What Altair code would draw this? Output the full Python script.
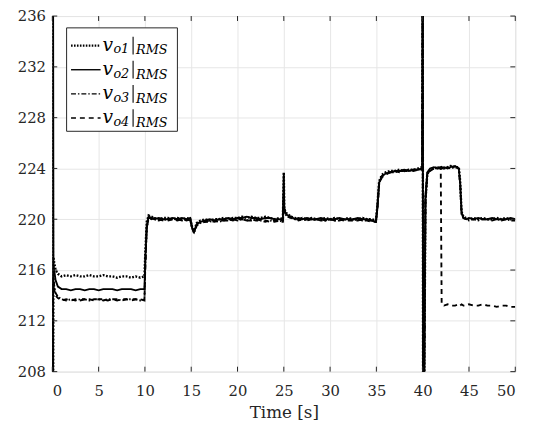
import altair as alt
import pandas as pd

# ---------------- data ----------------
T = (
    [0, 0.04, 0.08, 0.12, 0.2, 0.35, 0.6, 1.0]
    + [1.5, 2.0, 2.5, 3.0, 3.5, 4.0, 4.5, 5.0, 5.5, 6.0, 6.5, 7.0, 7.5, 8.0, 8.5, 9.0, 9.5, 9.95]
    + [10.05, 10.2, 10.4, 10.7, 11.0, 11.5, 12.0, 12.5, 13.0, 13.5, 14.0, 14.5, 14.9]
    + [15.1, 15.3, 15.6, 16.0, 16.5, 17.0, 17.5, 18.0, 18.5, 19.0, 19.5, 20.0, 20.5, 21.0, 21.5, 22.0, 22.5, 23.0, 23.5, 24.0, 24.5, 24.9]
    + [25.0, 25.05, 25.15, 25.4, 25.8, 26.2, 26.6, 27.0, 27.5, 28.0, 28.5, 29.0, 29.5, 30.0, 30.5, 31.0, 31.5, 32.0, 32.5, 33.0, 33.5, 34.0, 34.5, 34.95]
    + [35.1, 35.3, 35.6, 36.0, 36.5, 37.0, 37.5, 38.0, 38.5, 39.0, 39.5, 39.95]
    + [40.0, 40.05, 40.15, 40.3, 40.5, 40.8, 41.2, 41.6, 41.95]
    + [42.05, 42.3, 42.7, 43.0, 43.5, 43.9]
    + [44.05, 44.2, 44.4, 44.7, 45.0, 45.5, 46.0, 46.5, 47.0, 47.5, 48.0, 48.5, 49.0, 49.5, 50.0]
)

VO1 = (
    [200, 240, 200, 217.0, 216.6, 216.0, 215.7, 215.5]
    + [215.6, 215.5, 215.6, 215.5, 215.5, 215.6, 215.5, 215.5, 215.6, 215.5, 215.5, 215.4, 215.5, 215.5, 215.4, 215.5, 215.4, 215.5]
    + [217.5, 219.8, 220.3, 220.2, 220.1, 220.0, 220.1, 220.1, 220.0, 220.1, 220.0, 220.1, 220.0]
    + [219.4, 219.1, 219.7, 219.9, 220.0, 219.9, 220.0, 220.0, 220.1, 220.0, 220.1, 220.1, 220.2, 220.1, 220.2, 220.1, 220.1, 220.2, 220.1, 220.0, 220.1, 220.0]
    + [223.7, 221.0, 220.6, 220.4, 220.2, 220.1, 220.0, 220.1, 220.0, 220.1, 220.0, 220.0, 220.1, 220.0, 220.1, 220.0, 220.0, 220.1, 220.0, 220.0, 220.1, 220.0, 220.0, 219.9]
    + [221.0, 223.0, 223.5, 223.7, 223.8, 223.8, 223.9, 223.8, 223.9, 223.9, 224.0, 224.1]
    + [240, 200, 205, 221.5, 223.6, 223.9, 224.0, 224.1, 224.0]
    + [224.1, 224.0, 224.1, 224.2, 224.1, 224.1]
    + [223.0, 220.6, 220.2, 220.1, 220.0, 220.1, 220.0, 220.1, 220.0, 220.0, 220.1, 220.0, 220.1, 220.0, 220.0]
)

VO2 = (
    [230, 200, 240, 216.5, 216.0, 215.2, 214.7, 214.5]
    + [214.5, 214.4, 214.5, 214.5, 214.4, 214.5, 214.5, 214.4, 214.5, 214.5, 214.5, 214.4, 214.5, 214.5, 214.5, 214.4, 214.5, 214.5]
    + [217.0, 219.5, 220.2, 220.1, 220.0, 220.1, 220.0, 220.0, 220.1, 220.0, 220.1, 220.0, 220.1]
    + [219.3, 219.0, 219.6, 219.8, 219.9, 220.0, 219.9, 220.0, 220.0, 220.1, 220.0, 220.1, 220.1, 220.2, 220.1, 220.1, 220.0, 220.1, 220.1, 220.0, 220.0, 219.9]
    + [223.5, 220.9, 220.5, 220.3, 220.2, 220.0, 220.1, 220.0, 220.1, 220.0, 220.0, 220.1, 220.0, 220.0, 220.0, 220.1, 220.0, 220.0, 220.0, 220.1, 220.0, 220.0, 219.9, 219.8]
    + [220.9, 222.9, 223.4, 223.6, 223.7, 223.8, 223.8, 223.9, 223.8, 223.9, 223.9, 224.0]
    + [238, 202, 206, 221.8, 223.7, 224.0, 224.1, 224.0, 224.1]
    + [224.0, 224.1, 224.0, 224.1, 224.2, 224.0]
    + [222.8, 220.5, 220.1, 220.0, 220.1, 220.0, 220.1, 220.0, 220.0, 220.1, 220.0, 220.0, 220.0, 220.1, 220.0]
)

VO3 = (
    [212, 205, 215, 215.5, 214.8, 214.2, 213.9, 213.7]
    + [213.6, 213.7, 213.6, 213.7, 213.7, 213.6, 213.7, 213.7, 213.6, 213.7, 213.7, 213.7, 213.6, 213.7, 213.7, 213.7, 213.6, 213.7]
    + [216.5, 219.3, 220.1, 220.1, 220.0, 219.9, 220.0, 219.9, 220.0, 220.0, 219.9, 220.0, 219.9]
    + [219.3, 218.9, 219.5, 219.7, 219.8, 219.8, 219.9, 219.8, 219.9, 219.9, 220.0, 219.9, 220.0, 219.9, 220.0, 219.9, 219.9, 219.8, 219.9, 219.8, 219.9, 219.8]
    + [222.0, 220.7, 220.4, 220.2, 220.1, 220.0, 219.9, 220.0, 219.9, 220.0, 220.0, 219.9, 219.9, 220.0, 219.9, 219.9, 220.0, 219.9, 219.9, 220.0, 219.9, 219.9, 219.9, 219.8]
    + [220.8, 222.8, 223.4, 223.6, 223.7, 223.7, 223.8, 223.8, 223.8, 223.9, 223.9, 224.0]
    + [240, 200, 205, 221.3, 223.5, 223.9, 224.0, 224.0, 224.0]
    + [224.0, 224.0, 224.1, 224.0, 224.1, 224.0]
    + [222.7, 220.4, 220.1, 220.0, 219.9, 220.0, 219.9, 220.0, 220.0, 219.9, 220.0, 219.9, 220.0, 219.9, 219.9]
)

VO4 = (
    [212, 206, 214, 215.0, 214.5, 214.0, 213.8, 213.6]
    + [213.7, 213.6, 213.7, 213.6, 213.7, 213.7, 213.6, 213.7, 213.7, 213.6, 213.7, 213.6, 213.7, 213.7, 213.6, 213.7, 213.7, 213.6]
    + [216.5, 219.3, 220.1, 220.0, 220.1, 220.0, 219.9, 220.0, 220.0, 219.9, 220.0, 219.9, 220.0]
    + [219.3, 219.0, 219.6, 219.8, 219.8, 219.9, 219.8, 219.9, 219.9, 220.0, 219.9, 220.0, 220.0, 219.9, 219.9, 220.0, 219.9, 219.9, 219.8, 219.9, 219.8, 219.8]
    + [222.0, 220.8, 220.5, 220.2, 220.1, 220.0, 220.0, 219.9, 220.0, 219.9, 220.0, 220.0, 219.9, 220.0, 219.9, 220.0, 219.9, 220.0, 219.9, 219.9, 220.0, 219.9, 219.8, 219.8]
    + [220.8, 222.8, 223.3, 223.5, 223.7, 223.8, 223.7, 223.8, 223.9, 223.8, 223.9, 223.9]
    + [239, 201, 205, 221.5, 223.6, 223.8, 224.0, 224.1, 224.0]
    + [213.3, 213.2, 213.3, 213.2, 213.2, 213.3]
    + [213.2, 213.3, 213.2, 213.2, 213.3, 213.2, 213.2, 213.3, 213.2, 213.2, 213.1, 213.2, 213.2, 213.1, 213.1]
)

SERIES = ["vo1", "vo2", "vo3", "vo4"]
SUBSCRIPTS = ["o1", "o2", "o3", "o4"]
X_TICKS = [0, 5, 10, 15, 20, 25, 30, 35, 40, 45, 50]
Y_TICKS = [208, 212, 216, 220, 224, 228, 232, 236]

assert len(T) == len(VO1) == len(VO2) == len(VO3) == len(VO4)

# ---------------- styling ----------------
W, H = 470, 361
FONT = "DejaVu Serif"
AXC = "#262626"
STYLE = {
    "vo1": dict(strokeDash=[1.8, 1.6], strokeWidth=2.4),
    "vo2": dict(strokeWidth=1.9),
    "vo3": dict(strokeDash=[5, 2, 1.5, 2], strokeWidth=1.9),
    "vo4": dict(strokeDash=[5, 4], strokeWidth=1.9),
}
LEG_STYLE = {
    "vo1": dict(strokeDash=[1.6, 1.4], strokeWidth=2.2),
    "vo2": dict(strokeWidth=1.4),
    "vo3": dict(strokeDash=[5, 2, 1.5, 2], strokeWidth=1.4),
    "vo4": dict(strokeDash=[5, 4], strokeWidth=1.4),
}

rows = []
for name, vals in zip(SERIES, [VO1, VO2, VO3, VO4]):
    for t, v in zip(T, vals):
        rows.append({"series": name, "t": t, "v": v})
df = pd.DataFrame(rows)

xscale = alt.Scale(domain=[0, 50], nice=False, zero=False)
yscale = alt.Scale(domain=[208, 236], nice=False, zero=False)
xaxis = alt.Axis(values=X_TICKS, grid=True, gridColor="#e6e6e6", gridWidth=1,
                 ticks=False, domain=False, labelFont=FONT, labelFontSize=15,
                 labelColor=AXC, labelPadding=12, title="Time [s]", titleFont=FONT,
                 titleFontSize=17, titleFontWeight="normal", titleColor=AXC,
                 titlePadding=7)
yaxis = alt.Axis(values=Y_TICKS, grid=True, gridColor="#e6e6e6", gridWidth=1,
                 ticks=False, domain=False, labelFont=FONT, labelFontSize=15,
                 labelColor=AXC, labelPadding=7, title=None)
X = alt.X("t:Q", scale=xscale, axis=xaxis)
Y = alt.Y("v:Q", scale=yscale, axis=yaxis)

layers = []
for name in ["vo4", "vo3", "vo2", "vo1"]:
    layers.append(
        alt.Chart(df).transform_filter(alt.datum.series == name)
        .mark_line(clip=True, color="black", **STYLE[name])
        .encode(x=X, y=Y)
    )

# inward ticks on all four sides (MATLAB box)
xt = pd.DataFrame({"t": X_TICKS})
yt = pd.DataFrame({"v": Y_TICKS})
tk = dict(color=AXC, strokeWidth=1)
layers += [
    alt.Chart(xt).mark_rule(**tk).encode(x=X, y=alt.value(H), y2=alt.value(H - 5)),
    alt.Chart(xt).mark_rule(**tk).encode(x=X, y=alt.value(0), y2=alt.value(5)),
    alt.Chart(yt).mark_rule(**tk).encode(y=Y, x=alt.value(0), x2=alt.value(5)),
    alt.Chart(yt).mark_rule(**tk).encode(y=Y, x=alt.value(W), x2=alt.value(W - 5)),
]

# legend (drawn manually to reproduce the LaTeX labels)
one = pd.DataFrame({"a": [0]})
layers.append(
    alt.Chart(one).mark_rect(fill="white", stroke=AXC, strokeWidth=1)
    .encode(x=alt.value(14.5), x2=alt.value(127), y=alt.value(12), y2=alt.value(117))
)
for i, (name, sub) in enumerate(zip(SERIES, SUBSCRIPTS)):
    c = 30 + 24.5 * i
    layers.append(
        alt.Chart(one).mark_rule(color="black", **LEG_STYLE[name])
        .encode(x=alt.value(19), x2=alt.value(49), y=alt.value(c))
    )
    layers.append(
        alt.Chart(one).mark_text(text="v", font=FONT, fontSize=19, fontStyle="italic",
                                 align="left", baseline="alphabetic", color="black")
        .encode(x=alt.value(51), y=alt.value(c + 5))
    )
    layers.append(
        alt.Chart(one).mark_text(text=sub, font=FONT, fontSize=13, fontStyle="italic",
                                 align="left", baseline="alphabetic", color="black")
        .encode(x=alt.value(62), y=alt.value(c + 8))
    )
    layers.append(
        alt.Chart(one).mark_rule(color="black", strokeWidth=1.1)
        .encode(x=alt.value(82), y=alt.value(c - 9), y2=alt.value(c + 9))
    )
    layers.append(
        alt.Chart(one).mark_text(text="RMS", font=FONT, fontSize=13, fontStyle="italic",
                                 align="left", baseline="alphabetic", color="black")
        .encode(x=alt.value(85), y=alt.value(c + 9))
    )

chart = (
    alt.layer(*layers)
    .properties(width=W, height=H,
                autosize=alt.AutoSizeParams(type="none"),
                padding={"left": 45, "top": 5, "right": 18, "bottom": 50})
    .configure_view(stroke=AXC, strokeWidth=1)
    .configure(background="white")
)

chart.save("out.html", embed_options={"renderer": "svg", "actions": False})
